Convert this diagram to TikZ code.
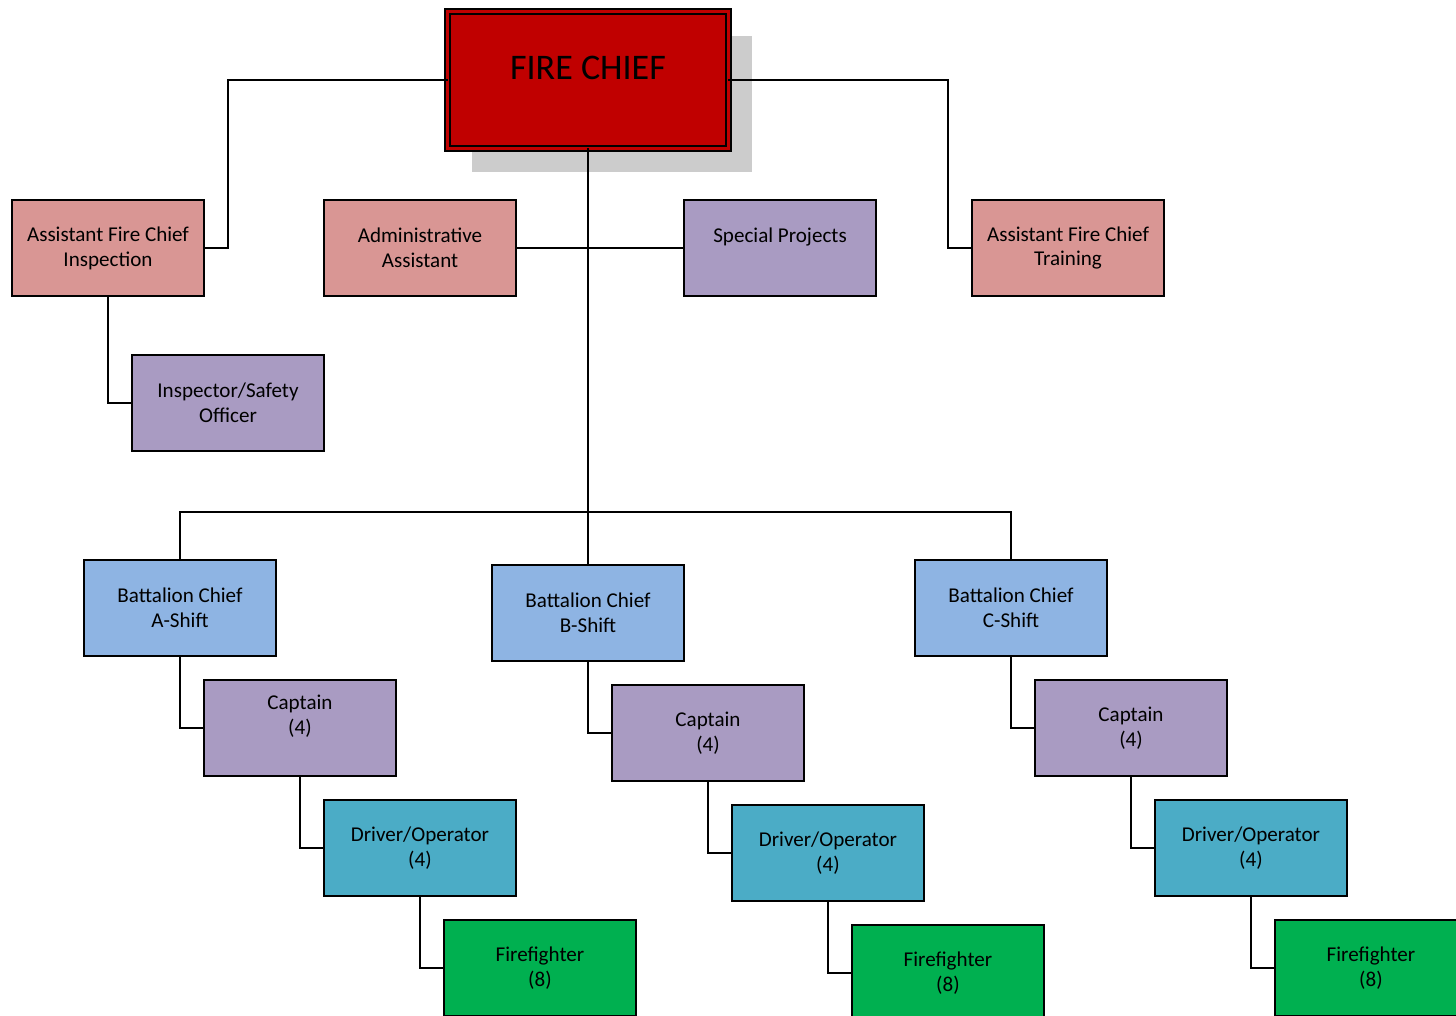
\documentclass[tikz,border=0pt]{standalone}
\usepackage{fontspec}
\setmainfont{Carlito}
\usepackage{tikz}
\usetikzlibrary{positioning, calc, shadows}
\definecolor{chiefred}{HTML}{C00000}
\definecolor{asstpink}{HTML}{D99694}
\definecolor{staffpurple}{HTML}{A99BC2}
\definecolor{bcblue}{HTML}{8EB4E3}
\definecolor{drvteal}{HTML}{4BACC6}
\definecolor{ffgreen}{HTML}{00B050}

\begin{document}
\begin{tikzpicture}[
        x=0.02cm, y=-0.02cm,
        node distance=0.48cm and -1.44cm,
        box/.style={rectangle, draw=black, line width=1.1pt, outer sep=0pt, minimum width=3.84cm, minimum height=1.92cm, align=center, font=\fontsize{12}{14.2}\selectfont},
        asstbox/.style={box, fill=asstpink},
        staffbox/.style={box, fill=staffpurple},
        bcbox/.style={box, fill=bcblue},
        drvbox/.style={box, fill=drvteal},
        ffbox/.style={box, fill=ffgreen},
        chiefbox/.style={rectangle, draw=black, line width=1pt, double=chiefred, double distance=0.06cm, fill=chiefred, outer sep=0pt, minimum width=5.62cm, minimum height=2.74cm, drop shadow={shadow xshift=0.48cm, shadow yshift=-0.48cm, fill=black!20, opacity=1}},
        link/.style={line width=1.1pt, black}
    ]
    \useasboundingbox (0,0) rectangle (1456,1016);
    \clip (0,0) rectangle (1456,1016);

    % top of the chart
    \node[chiefbox, label={[yshift=0.24cm, font=\fontsize{20.5}{24}\selectfont]center:FIRE CHIEF}] (chief) at (588,80) {};
    \node[asstbox] (afci) at (108,248) {Assistant Fire Chief\\Inspection};
    \node[asstbox] (admin) at (420,248) {Administrative\\Assistant};
    \node[staffbox] (special) at (780,248) {Special Projects\\\mbox{}};
    \node[asstbox] (afct) at (1068,248) {Assistant Fire Chief\\Training};
    \node[staffbox, below right=1.18cm and -1.44cm of afci] (insp) {Inspector/Safety\\Officer};

    % shifts
    \node[bcbox] (bca) at (180,608) {Battalion Chief\\A-Shift};
    \node[bcbox] (bcb) at (588,613) {Battalion Chief\\B-Shift};
    \node[bcbox] (bcc) at (1011,608) {Battalion Chief\\C-Shift};

    \node[staffbox, text depth=0.54cm, below right=of bca] (capa) {Captain\\(4)};
    \node[drvbox, below right=of capa] (drva) {Driver/Operator\\(4)};
    \node[ffbox, below right=of drva] (ffa) {Firefighter\\(8)};

    \node[staffbox, below right=of bcb] (capb) {Captain\\(4)};
    \node[drvbox, below right=of capb] (drvb) {Driver/Operator\\(4)};
    \node[ffbox, below right=of drvb] (ffb) {Firefighter\\(8)};

    \node[staffbox, below right=of bcc] (capc) {Captain\\(4)};
    \node[drvbox, below right=of capc] (drvc) {Driver/Operator\\(4)};
    \node[ffbox, below right=of drvc] (ffc) {Firefighter\\(8)};

    \coordinate (bus) at (588,512);

    \draw[link] (chief.west) -| ($(afci.east)+(24,0)$) -- (afci.east);
    \draw[link] (chief.east) -| ($(afct.west)+(-24,0)$) -- (afct.west);
    \draw[link] (chief.south) -- (bcb.north);
    \draw[link] (admin.east) -- (special.west);
    \draw[link] (afci.south) |- (insp.west);
    \draw[link] (bca.north) |- (bus) -| (bcc.north);

    \draw[link] (bca.south) |- (capa.west);
    \draw[link] (capa.south) |- (drva.west);
    \draw[link] (drva.south) |- (ffa.west);
    \draw[link] (bcb.south) |- (capb.west);
    \draw[link] (capb.south) |- (drvb.west);
    \draw[link] (drvb.south) |- (ffb.west);
    \draw[link] (bcc.south) |- (capc.west);
    \draw[link] (capc.south) |- (drvc.west);
    \draw[link] (drvc.south) |- (ffc.west);

    \end{tikzpicture}
\end{document}
